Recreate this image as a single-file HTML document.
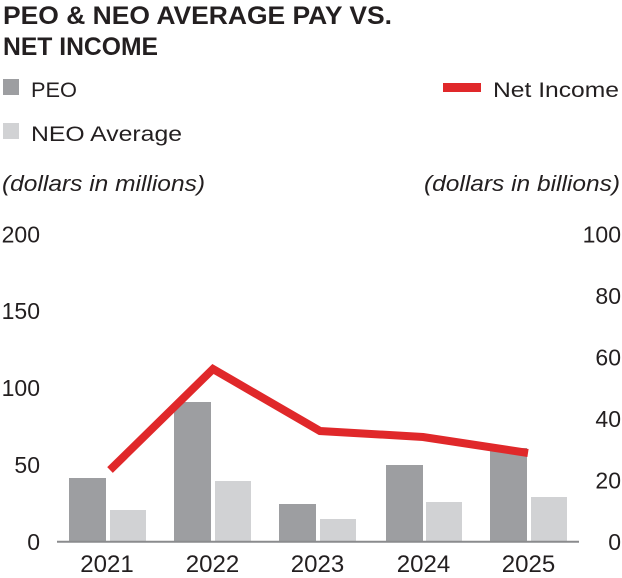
<!DOCTYPE html>
<html>
<head>
<meta charset="utf-8">
<style>
  html, body { margin:0; padding:0; background:#ffffff; }
  svg { display:block; }
  text { font-family: "Liberation Sans", "DejaVu Sans", sans-serif; fill:#231f20; }
</style>
</head>
<body>
<svg width="622" height="578" viewBox="0 0 622 578" xmlns="http://www.w3.org/2000/svg">
  <!-- Title -->
  <text x="3" y="24" font-size="25" font-weight="bold" textLength="389" lengthAdjust="spacingAndGlyphs">PEO &amp; NEO AVERAGE PAY VS.</text>
  <text x="3" y="55" font-size="25" font-weight="bold" textLength="155" lengthAdjust="spacingAndGlyphs">NET INCOME</text>

  <!-- Legend -->
  <rect x="3" y="79" width="16" height="16" fill="#9d9ea1"/>
  <text x="31" y="97" font-size="21" textLength="46" lengthAdjust="spacingAndGlyphs">PEO</text>
  <rect x="3" y="123" width="16" height="16" fill="#d1d2d4"/>
  <text x="31" y="141" font-size="21" textLength="151" lengthAdjust="spacingAndGlyphs">NEO Average</text>
  <rect x="443" y="83" width="38" height="9" fill="#e0282a"/>
  <text x="493" y="97" font-size="21" textLength="126" lengthAdjust="spacingAndGlyphs">Net Income</text>

  <!-- Units -->
  <text x="2" y="191" font-size="22" font-style="italic" textLength="203" lengthAdjust="spacingAndGlyphs">(dollars in millions)</text>
  <text x="424" y="191" font-size="22" font-style="italic" textLength="196" lengthAdjust="spacingAndGlyphs">(dollars in billions)</text>

  <!-- Left axis labels -->
  <g font-size="23" text-anchor="end">
    <text x="40" y="242.5">200</text>
    <text x="40" y="319">150</text>
    <text x="40" y="396">100</text>
    <text x="40" y="473">50</text>
    <text x="40" y="550">0</text>
  </g>
  <!-- Right axis labels -->
  <g font-size="23" text-anchor="end">
    <text x="621" y="242.5">100</text>
    <text x="621" y="304">80</text>
    <text x="621" y="365.5">60</text>
    <text x="621" y="427">40</text>
    <text x="621" y="488.5">20</text>
    <text x="621" y="550">0</text>
  </g>

  <!-- Bars -->
  <g fill="#9d9ea1">
    <rect x="69" y="478" width="37" height="63.5"/>
    <rect x="174" y="402" width="37" height="139.5"/>
    <rect x="279" y="504" width="37" height="37.5"/>
    <rect x="386" y="465" width="37" height="76.5"/>
    <rect x="490" y="448" width="37" height="93.5"/>
  </g>
  <g fill="#d1d2d4">
    <rect x="110" y="510" width="36" height="31.5"/>
    <rect x="215" y="481" width="36" height="60.5"/>
    <rect x="320" y="519" width="36" height="22.5"/>
    <rect x="426" y="502" width="36" height="39.5"/>
    <rect x="531" y="497" width="36" height="44.5"/>
  </g>

  <!-- Axis line -->
  <line x1="57" y1="541.7" x2="579" y2="541.7" stroke="#8a8b8d" stroke-width="2"/>

  <!-- Net income line -->
  <polyline points="110,470 213,369 320,431 423,437 528,453" fill="none" stroke="#e0282a" stroke-width="8" stroke-linejoin="miter" stroke-linecap="butt"/>

  <!-- Year labels -->
  <g font-size="24" text-anchor="middle">
    <text x="107" y="572">2021</text>
    <text x="212.5" y="572">2022</text>
    <text x="317.5" y="572">2023</text>
    <text x="423.5" y="572">2024</text>
    <text x="528.5" y="572">2025</text>
  </g>
</svg>
</body>
</html>
